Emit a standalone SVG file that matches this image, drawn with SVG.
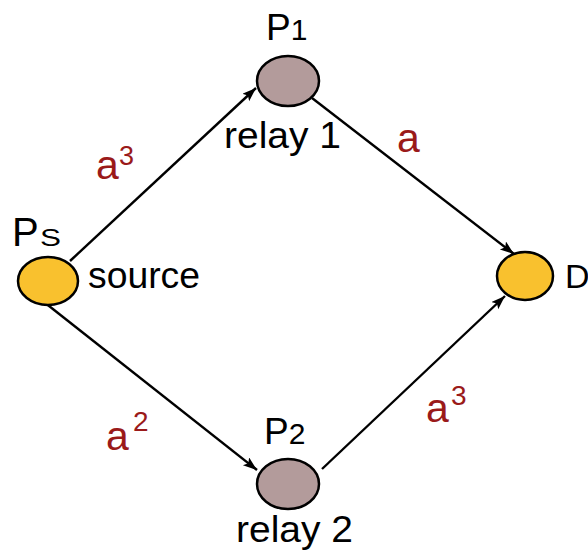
<svg xmlns="http://www.w3.org/2000/svg" width="588" height="551" viewBox="0 0 588 551">
<style>
.lbl{font-family:"Liberation Sans",Arial,sans-serif;fill:#000}
.w{font-family:"Liberation Sans",Arial,sans-serif;fill:#9a1a1a}
.edge{stroke:#000;stroke-width:2.4;fill:none;marker-end:url(#ah)}
.relay{fill:#b39b9b;stroke:#000;stroke-width:2.5}
.end{fill:#f9c12e;stroke:#000;stroke-width:2.5}
</style>
<defs>
<marker id="ah" markerUnits="userSpaceOnUse" markerWidth="15" markerHeight="12" refX="14" refY="5" orient="auto">
<path d="M0,0 L14,5 L0,10 L3,5 z" fill="#000"/>
</marker>
</defs>
<rect width="588" height="551" fill="#fff"/>
<g id="connectors">
<line class="edge" x1="70" y1="261" x2="256" y2="88"/>
<line class="edge" x1="312" y1="98" x2="514" y2="254"/>
<line class="edge" x1="44" y1="302" x2="257" y2="470"/>
<line class="edge" x1="322" y1="469" x2="505" y2="296"/>
</g>
<g id="edge-labels">
<text class="w" x="96" y="179" font-size="41">a</text><text class="w" x="119" y="165" font-size="27">3</text>
<text class="w" x="397" y="152" font-size="41">a</text>
<text class="w" x="106" y="450" font-size="41">a</text><text class="w" x="133" y="431" font-size="28">2</text>
<text class="w" x="426" y="422" font-size="41">a</text><text class="w" x="451" y="405" font-size="28">3</text>
</g>
<g id="P1">
<ellipse class="relay" cx="288" cy="81" rx="31" ry="25"/>
<text class="lbl" x="266" y="40" font-size="37">P<tspan font-size="30">1</tspan></text>
<text class="lbl" x="224" y="148" font-size="37" textLength="117" lengthAdjust="spacingAndGlyphs">relay 1</text>
</g>
<g id="P2">
<ellipse class="relay" cx="288" cy="484" rx="31" ry="25"/>
<text class="lbl" x="264" y="444" font-size="37">P<tspan font-size="30">2</tspan></text>
<text class="lbl" x="236" y="542" font-size="37" textLength="117" lengthAdjust="spacingAndGlyphs">relay 2</text>
</g>
<g id="Ps">
<ellipse class="end" cx="48" cy="281" rx="30" ry="24"/>
<text class="lbl" x="12" y="246" font-size="40">P</text><text class="lbl" x="40" y="246" font-size="24" textLength="21" lengthAdjust="spacingAndGlyphs">S</text>
<text class="lbl" x="88" y="288" font-size="37" textLength="112" lengthAdjust="spacingAndGlyphs">source</text>
</g>
<g id="D">
<ellipse class="end" cx="525" cy="276" rx="28" ry="24"/>
<text class="lbl" x="565" y="288" font-size="34">D</text>
</g>
</svg>
